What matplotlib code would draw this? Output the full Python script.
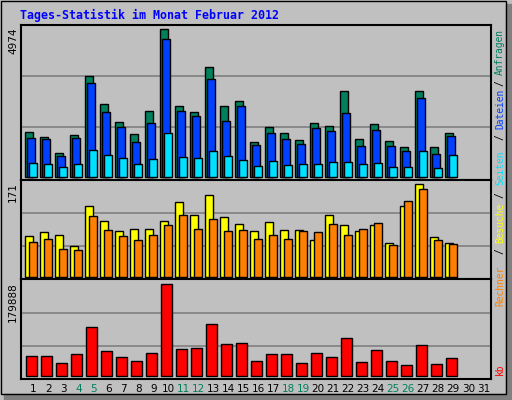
import matplotlib
matplotlib.use("Agg")
import matplotlib.pyplot as plt
from matplotlib.patches import Rectangle

days = list(range(1, 32))
hits = [1497,1339,788,1395,3387,2442,1834,1429,2206,4974,2374,2172,3691,2374,2543,1159,1665,1463,1227,1800,1699,2881,1260,1767,1193,990,2881,990,1463]
files = [1294,1260,686,1294,3151,2172,1665,1159,1800,4636,2206,2037,3286,1868,2374,1058,1463,1260,1092,1632,1530,2138,1024,1564,1024,855,2644,754,1362]
pages = [450,416,315,416,889,720,619,416,585,1463,653,619,855,686,551,349,518,383,416,416,484,484,416,450,315,315,855,281,720]
visits = [75,82,77,56,130,104,84,89,88,104,138,114,152,110,97,84,101,86,86,67,115,95,84,95,62,130,171,73,62]
sites = [64,69,52,49,112,86,75,67,77,95,115,88,106,84,86,69,78,69,84,82,97,77,89,99,58,141,162,67,60]
kb = [38077,38077,24290,42016,95193,47925,36108,28230,43986,179888,51864,53833,101101,61711,63681,28230,42016,42016,24290,43986,36108,73528,26260,49894,28230,20352,59742,22321,34138]
weekend = [4, 5, 11, 12, 18, 19, 25, 26]

BG = "#C0C0C0"
W, H = 512, 400
fig = plt.figure(figsize=(W/100, H/100), dpi=100)
fig.patch.set_facecolor(BG)

def rect(x0, y0, x1, y1):
    return [x0/W, 1-y1/H, (x1-x0)/W, (y1-y0)/H]

fig.patches.append(Rectangle((506/W, 0), 6/W, 1-4/H, transform=fig.transFigure, color="#808080", zorder=0))
fig.patches.append(Rectangle((4/W, 0), 1, 6/H, transform=fig.transFigure, color="#808080", zorder=0))
fig.patches.append(Rectangle((0.5/W, 6/H), 505.5/W, 1-6.5/H, transform=fig.transFigure, fill=False, ec="black", lw=1, zorder=1))

def mkax(y0, y1, base, top_px, top_val, grids):
    ax = fig.add_axes(rect(20.7, y0, 491, y1))
    ax.set_facecolor(BG)
    s = top_val / (base - top_px)
    ax.set_xlim(20.7, 491)
    ax.set_ylim(-(y1 - base) * s, (base - y0) * s)
    for g in grids:
        ax.axhline((base - g) * s, color="#808080", lw=1.2, zorder=0)
    ax.set_xticks([]); ax.set_yticks([])
    for sp in ax.spines.values():
        sp.set_linewidth(1.5); sp.set_color("black")
    return ax

xs = [25.3 + 15 * (d - 1) for d in days[:len(hits)]]
kw = dict(align="edge", edgecolor="black", linewidth=1)

ax1 = mkax(24.7, 179.7, 176.7, 29.3, 4974, [76.3, 127.3])
ax1.bar(xs, hits, 7.3, color="#00805C", **kw)
ax1.bar([x + 1.7 for x in xs], files, 7.7, color="#0040FF", **kw)
ax1.bar([x + 3.7 for x in xs], pages, 7.7, color="#00E0FF", **kw)

ax2 = mkax(179.7, 278.7, 276.7, 184.3, 171, [213.3, 246.3])
ax2.bar(xs, visits, 8, color="#FFFF00", **kw)
ax2.bar([x + 4 for x in xs], sites, 7.4, color="#FF8000", **kw)

ax3 = mkax(278.7, 378.7, 375.7, 284.3, 179888, [313.3, 346])
ax3.bar([x + 1 for x in xs], kb, 10.4, color="#FF0000", **kw)

for d in days:
    x = 25.3 + 15 * (d - 1) + 8
    fig.text(x/W, 1-389/H, str(d), ha="center", va="center", fontsize=7.5,
             color="#00805C" if d in weekend else "black")

fig.text(20/W, 1-15/H, "Tages-Statistik im Monat Februar 2012", ha="left", va="center",
         fontsize=8.4, family="DejaVu Sans Mono", weight="bold", color="#0000FF")

for txt, ytop in [("4974", 28), ("171", 182), ("179888", 282)]:
    fig.text(13/W, 1-ytop/H, txt, rotation=90, ha="center", va="top", fontsize=7.5)

for txt, yc, col in [("Anfragen", 52, "#00805C"), ("/", 83, "black"), ("Dateien", 109, "#0040FF"),
                     ("/", 137, "black"), ("Seiten", 168, "#00E0FF"), ("/", 195, "black"),
                     ("Besuche", 223, "#FFFF00"), ("/", 251, "black"), ("Rechner", 286, "#FF8000"),
                     ("kb", 369, "#FF0000")]:
    fig.text(500/W, 1-yc/H, txt, rotation=90, ha="center", va="center", fontsize=6.9,
             family="DejaVu Sans Mono", color=col)

fig.savefig("out.png", dpi=100, facecolor=BG)
